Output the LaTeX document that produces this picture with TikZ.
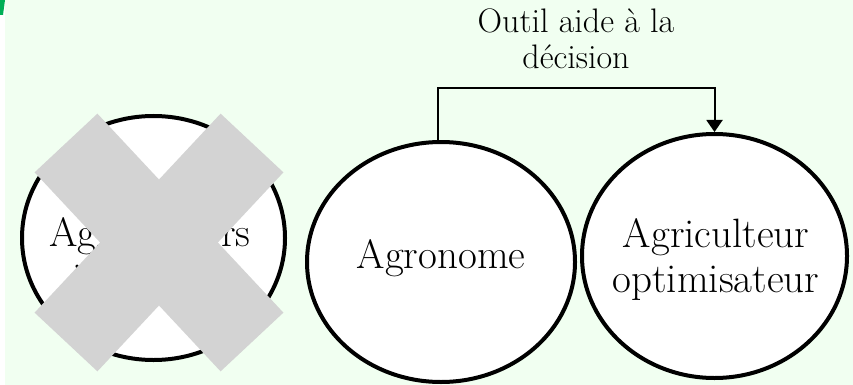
\documentclass[tikz,border=0pt]{standalone}
\usetikzlibrary{shapes.geometric,arrows.meta}
\definecolor{paper}{RGB}{241,255,241}
\definecolor{crossgrey}{RGB}{211,211,211}
\definecolor{edgegreen}{RGB}{0,175,85}
\tikzset{
  actor/.style={ellipse, draw=black, line width=4pt, fill=white, inner sep=0pt},
  actortext/.style={align=center, font=\fontsize{41}{45}\selectfont, inner sep=0pt},
  toollabel/.style={align=center, font=\fontsize{34}{36}\selectfont, inner sep=0pt},
  crossbar/.style={draw=crossgrey, line width=86pt, line cap=butt},
  flow/.style={draw=black, line width=2pt, -{Triangle[width=16pt,length=12pt]}}
}
\begin{document}
\begin{tikzpicture}[x=1pt,y=-1pt]
  % page and tinted background
  \useasboundingbox (0,0) rectangle (853,385);
  \fill[white] (0,0) rectangle (853,385);
  \fill[paper] (5,0) rectangle (853,385);
  \fill[edgegreen] (0,0) -- (5,0) -- (3,15) -- (0,15) -- cycle;

  % actors
  \node[actor, minimum width=263pt, minimum height=244pt] (old) at (153.5,238) {};
  \node[actortext] (oldtext) at (150,254.5) {Agriculteurs\\innovants};
  \node[actor, minimum width=268pt, minimum height=240pt] (agro) at (441,262) {};
  \node[actortext] (agrotext) at (441,258) {Agronome};
  \node[actor, minimum width=265pt, minimum height=244pt] (opti) at (714.5,256) {};
  \node[actortext] (optitext) at (716,259.5) {Agriculteur\\optimisateur};

  % the rejected actor is crossed out
  \coordinate (xa) at (66,143);
  \coordinate (xb) at (252,342);
  \coordinate (xc) at (252,143);
  \coordinate (xd) at (66,342);
  \draw[crossbar] (xa) -- (xb);
  \draw[crossbar] (xc) -- (xd);

  % decision-support tool link
  \coordinate (top) at (0,88);
  \draw[flow] ([xshift=-3pt]agro.north) -- ([xshift=-3pt]agro.north |- top) -| (opti.north);
  \node[toollabel] (tool) at (576,38.5) {Outil aide à la\\décision};
\end{tikzpicture}
\end{document}
